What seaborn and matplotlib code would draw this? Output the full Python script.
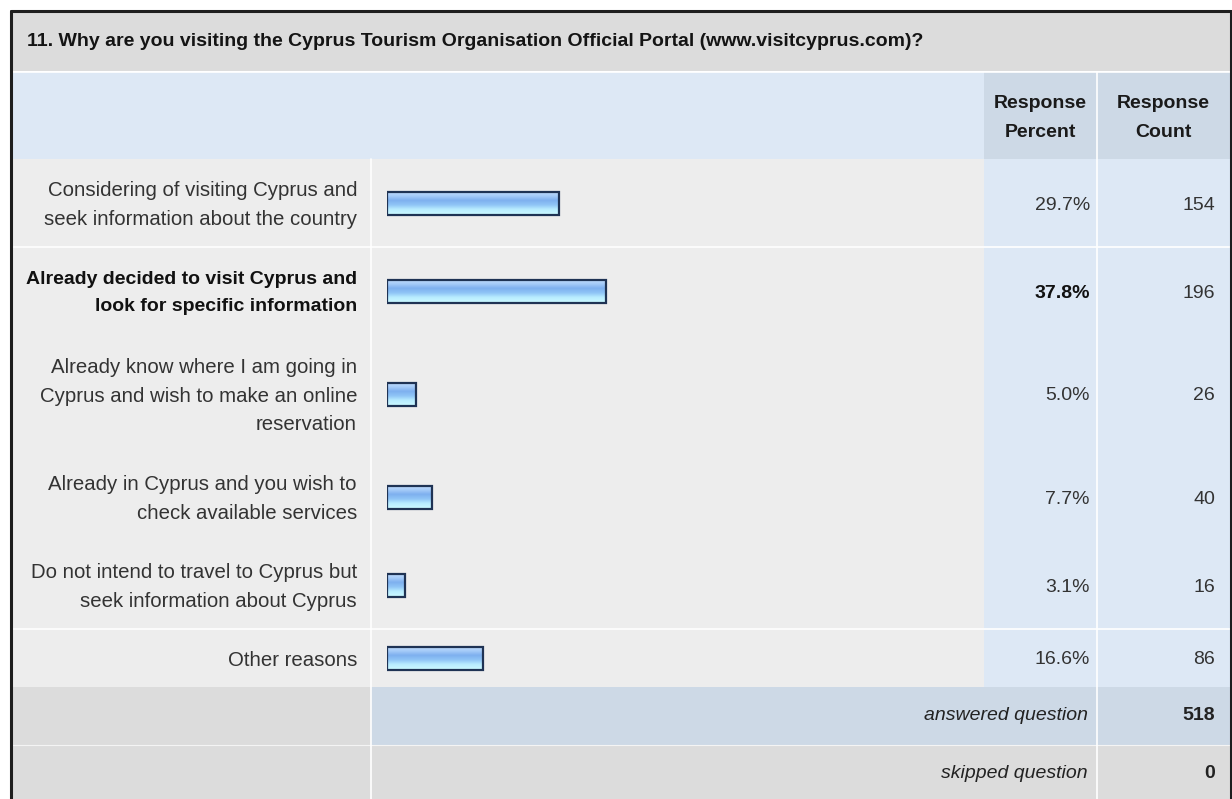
import numpy as np
import seaborn as sns
import matplotlib.pyplot as plt
from matplotlib.patches import Rectangle
from matplotlib.colors import LinearSegmentedColormap

# survey data
title = "11. Why are you visiting the Cyprus Tourism Organisation Official Portal (www.visitcyprus.com)?"
answers = ["Considering of visiting Cyprus and\nseek information about the country",
           "Already decided to visit Cyprus and\nlook for specific information",
           "Already know where I am going in\nCyprus and wish to make an online\nreservation",
           "Already in Cyprus and you wish to\ncheck available services",
           "Do not intend to travel to Cyprus but\nseek information about Cyprus",
           "Other reasons"]
percent = [29.7, 37.8, 5.0, 7.7, 3.1, 16.6]
counts = [154, 196, 26, 40, 16, 86]
bold_row = 1
answered = 518
skipped = 0

sns.set_style("white")
plt.rcParams['font.family'] = ['Liberation Sans', 'DejaVu Sans']
FS = 14
FS_LAB = 14.7

W, H = 1232, 799
fig = plt.figure(figsize=(W / 100, H / 100), dpi=100)
bg = fig.add_axes([0, 0, 1, 1])
bg.set_xlim(0, W)
bg.set_ylim(H, 0)
bg.axis('off')

def cell(x0, y0, x1, y1, c):
    bg.add_patch(Rectangle((x0, y0), x1 - x0, y1 - y0, facecolor=c, edgecolor='none', zorder=1))

# column edges (px)
xl, xlab, xpct, xcnt, xr = 12, 371, 984, 1097, 1230
y_title, y_head = 12, 72
y_rows0 = 159

# row heights from number of text lines
nlines = [a.count("\n") + 1 for a in answers]
heights = [30 * n + 28 for n in nlines]
edges = y_rows0 + np.concatenate([[0], np.cumsum(heights)])
centers = (edges[:-1] + edges[1:]) / 2
y_ans = edges[-1]
y_skip = y_ans + 58

# title row
cell(xl, y_title, xr, y_head - 1, '#dcdcdc')
bg.text(27, 42, title, fontsize=FS, fontweight='bold', color='#141414', va='center', ha='left')

# header row
cell(xl, y_head, xr, y_rows0, '#dde8f5')
cell(xpct, y_head, xr, y_rows0, '#cdd9e6')
bg.text((xpct + xcnt) / 2, 118, "Response\nPercent", fontsize=FS, fontweight='bold', color='#1a1a1a',
        ha='center', va='center', linespacing=1.9)
bg.text((xcnt + xr) / 2, 118, "Response\nCount", fontsize=FS, fontweight='bold', color='#1a1a1a',
        ha='center', va='center', linespacing=1.9)

# data rows
cell(xl, y_rows0, xpct, y_ans, '#ededed')
cell(xpct, y_rows0, xr, y_ans, '#dde8f5')
for i, (a, p, c) in enumerate(zip(answers, percent, counts)):
    bold = i == bold_row
    w = 'bold' if bold else 'normal'
    col = '#111111' if bold else '#333333'
    yc = centers[i] + 2
    bg.text(357, yc, a, fontsize=FS if bold else FS_LAB, fontweight=w, color=col, ha='right',
            va='center', linespacing=1.72 if bold else 1.64, multialignment='right')
    bg.text(1090, yc, f"{p:.1f}%", fontsize=FS, fontweight=w, color=col, ha='right', va='center')
    bg.text(1215, yc, str(c), fontsize=FS, color='#333333', ha='right', va='center')

# summary rows
cell(xl, y_ans, xr, H, '#dcdcdc')
cell(xlab, y_ans, xr, y_skip, '#cdd9e6')
bg.text(1088, (y_ans + y_skip) / 2, "answered question", fontsize=FS, style='italic', color='#222222',
        ha='right', va='center')
bg.text(1215, (y_ans + y_skip) / 2, str(answered), fontsize=FS, fontweight='bold', color='#222222',
        ha='right', va='center')
bg.text(1088, (y_skip + H) / 2 + 2, "skipped question", fontsize=FS, style='italic', color='#222222',
        ha='right', va='center')
bg.text(1215, (y_skip + H) / 2 + 2, str(skipped), fontsize=FS, fontweight='bold', color='#222222',
        ha='right', va='center')

# white separators
for yy in [y_head - 0.5, edges[1], edges[-2]]:
    bg.plot([xl, xr], [yy, yy], color='white', lw=1.2, zorder=2)
bg.plot([xl, xr], [y_skip, y_skip], color='#f4f4f4', lw=0.8, zorder=2)
bg.plot([xlab, xlab], [y_rows0, H], color='white', lw=1.2, zorder=2)
bg.plot([xcnt, xcnt], [y_head, H], color='white', lw=1.2, zorder=2)

# outer frame
bg.plot([11, 11], [11, H], color='#1e1e1e', lw=2.2, zorder=5)
bg.plot([11, 1231], [11, 11], color='#1e1e1e', lw=2.2, zorder=5)
bg.plot([1231, 1231], [11, H], color='#1e1e1e', lw=2.2, zorder=5)

# bars: 100% = 580 px, zero at x=387
x0, scale = 387, 5.8
bar_ax = fig.add_axes([x0 / W, 0, 100 * scale / W, 1])
bar_ax.patch.set_alpha(0)
bar_h = 23
sns.barplot(x=percent, y=centers, orient='h', native_scale=True, ax=bar_ax,
            width=bar_h / np.min(np.diff(centers)), color='#8ab8f2',
            edgecolor='#1f3354', linewidth=1.6, saturation=1)
bar_ax.set_xlim(0, 100)
bar_ax.set_ylim(H, 0)
bar_ax.axis('off')

grad = LinearSegmentedColormap.from_list('bar', ['#c4defd', '#a6ccf8', '#7eb0ef', '#8fc4f6', '#b8ecff', '#c9f8ff'])
g = np.linspace(0, 1, 64).reshape(-1, 1)
for patch in bar_ax.patches:
    px, py = patch.get_x(), patch.get_y()
    pw, ph = patch.get_width(), patch.get_height()
    im = bar_ax.imshow(g, cmap=grad, aspect='auto', origin='upper',
                       extent=(px, px + pw, py + ph, py), zorder=2)
    im.set_clip_path(patch)
    patch.set_facecolor('none')
    patch.set_zorder(3)
bar_ax.set_xlim(0, 100)
bar_ax.set_ylim(H, 0)

fig.savefig('out.png', dpi=100)
